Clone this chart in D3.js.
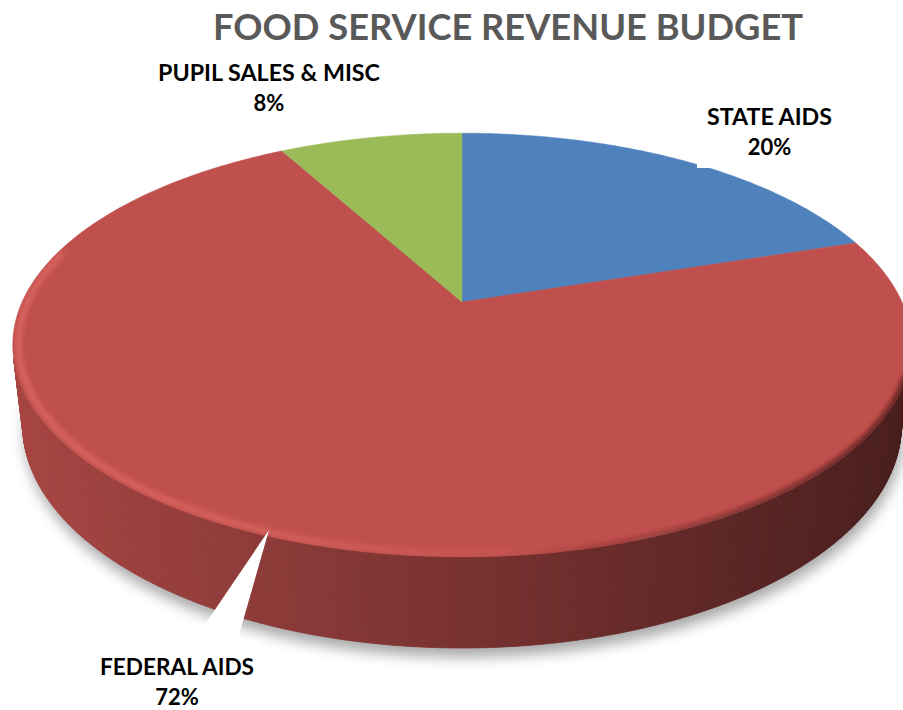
<!DOCTYPE html>
<html>
<head>
<meta charset="utf-8">
<script src="https://cdn.jsdelivr.net/npm/d3@7"></script>
<style>
  html, body { margin: 0; padding: 0; background: #fff; }
  svg { display: block; }
</style>
</head>
<body>
<svg id="chart" width="903" height="710"></svg>
<script>
// Revenue sources and their shares of the food service budget
const categories = ["STATE AIDS", "FEDERAL AIDS", "PUPIL SALES & MISC"];
const shares = [20, 72, 8];
const sliceColors = ["#4F81BD", "#C0504D", "#9BBB59"];
const chartTitle = "FOOD SERVICE REVENUE BUDGET";

// Label placement: centre x, baseline of the first line, target width of the name, backing box
const labelLayout = [
  { x: 769.5, y: 125, w: 125, box: [697, 98, 148, 70] },
  { x: 177,   y: 675, w: 154, box: [95, 641, 166, 69] },
  { x: 269,   y: 81,  w: 222, box: [150, 55, 238, 66] }
];

const W = 903, H = 710;
const svg = d3.select("#chart");
const defs = svg.append("defs");

// --- perspective camera for the tilted disc -------------------------------
const cam = {
  cx: 462, cy: 302,        // screen position of the disc centre
  focal: 1921,             // focal length in px (camera distance = 1)
  radius: 0.229,           // disc radius relative to camera distance
  depth: 0.047,            // disc thickness
  tilt: 27.5 * Math.PI / 180
};
function project(t, z, rf = 1) {
  const X = cam.radius * rf * Math.cos(t);
  const Y = cam.radius * rf * Math.sin(t);
  const d = 1 + Y * Math.cos(cam.tilt) - z * Math.sin(cam.tilt);
  const v = Y * Math.sin(cam.tilt) + z * Math.cos(cam.tilt);
  return [cam.cx + cam.focal * X / d, cam.cy - cam.focal * v / d];
}
// pie angle (0 at 12 o'clock, clockwise) -> world angle
const worldAngle = a => Math.PI / 2 - a;

const pie = d3.pie().sort(null).value(d => d)(shares);
const total = d3.sum(shares);
const pctText = v => Math.round(v / total * 100) + "%";

const line = d3.line();
function arcPoints(a0, a1, z, rf = 1, step = 0.01) {
  const n = Math.max(2, Math.ceil(Math.abs(a1 - a0) / step));
  return d3.range(n + 1).map(i => project(worldAngle(a0 + (a1 - a0) * i / n), z, rf));
}

// --- soft drop shadow under the disc -----------------------------------
const shadowBlur = defs.append("filter").attr("id", "shadowBlur")
  .attr("x", "-20%").attr("y", "-20%").attr("width", "140%").attr("height", "140%");
shadowBlur.append("feGaussianBlur").attr("stdDeviation", 7);

svg.append("path")
  .attr("d", line(arcPoints(0, 2 * Math.PI, -cam.depth)) + "Z")
  .attr("transform", "translate(2,9)")
  .attr("fill", "#000")
  .attr("opacity", 0.34)
  .attr("filter", "url(#shadowBlur)");

// --- side wall, shaded left-to-right -----------------------------------
const shade = d3.scaleLinear().domain([13, 911]).range([0.87, 0.38]).clamp(true);
const sideG = svg.append("g");
pie.forEach((s, i) => {
  const base = d3.rgb(sliceColors[i]);
  const n = Math.ceil((s.endAngle - s.startAngle) / 0.006);
  for (let k = 0; k < n; k++) {
    const a0 = s.startAngle + (s.endAngle - s.startAngle) * k / n;
    const a1 = s.startAngle + (s.endAngle - s.startAngle) * (k + 1) / n;
    const p0 = project(worldAngle(a0), 0), p1 = project(worldAngle(a1), 0);
    const q1 = project(worldAngle(a1), -cam.depth), q0 = project(worldAngle(a0), -cam.depth);
    // keep only strips that face the camera
    const cross = (p1[0] - p0[0]) * (q1[1] - p0[1]) - (p1[1] - p0[1]) * (q1[0] - p0[0]);
    if (cross >= 0) continue;
    const f = shade((p0[0] + p1[0]) / 2);
    const c = d3.rgb(base.r * f, base.g * f, base.b * f).formatHex();
    sideG.append("path")
      .attr("d", line([p0, p1, q1, q0]) + "Z")
      .attr("fill", c).attr("stroke", c).attr("stroke-width", 0.8);
  }
});

// --- top face slices ---------------------------------------------------
const topG = svg.append("g");
pie.forEach((s, i) => {
  const pts = [project(0, 0, 0)].concat(arcPoints(s.startAngle, s.endAngle, 0));
  topG.append("path")
    .attr("d", line(pts) + "Z")
    .attr("fill", sliceColors[i])
    .attr("stroke", sliceColors[i]).attr("stroke-width", 0.5);
});

// --- bevel on the rim: highlight on the lit side, shade on the far side ---
defs.append("clipPath").attr("id", "topClip")
  .append("path").attr("d", line(arcPoints(0, 2 * Math.PI, 0)) + "Z");
const rimBlur = defs.append("filter").attr("id", "rimBlur")
  .attr("x", "-10%").attr("y", "-10%").attr("width", "120%").attr("height", "120%");
rimBlur.append("feGaussianBlur").attr("stdDeviation", 2.4);
const darkBlur = defs.append("filter").attr("id", "darkBlur")
  .attr("x", "-10%").attr("y", "-10%").attr("width", "120%").attr("height", "120%");
darkBlur.append("feGaussianBlur").attr("stdDeviation", 2.4);

const hiGrad = defs.append("linearGradient").attr("id", "hiGrad")
  .attr("gradientUnits", "userSpaceOnUse").attr("x1", 13).attr("x2", 911).attr("y1", 0).attr("y2", 0);
[[0, 0.8], [0.25, 0.7], [0.45, 0.35], [0.62, 0]].forEach(([o, a]) =>
  hiGrad.append("stop").attr("offset", o).attr("stop-color", "#e66e69").attr("stop-opacity", a));
const loGrad = defs.append("linearGradient").attr("id", "loGrad")
  .attr("gradientUnits", "userSpaceOnUse").attr("x1", 13).attr("x2", 911).attr("y1", 0).attr("y2", 0);
[[0.55, 0], [0.8, 0.5], [1, 0.8]].forEach(([o, a]) =>
  loGrad.append("stop").attr("offset", o).attr("stop-color", "#3c1414").attr("stop-opacity", a));

const rimG = svg.append("g").attr("clip-path", "url(#topClip)");
// rim from back-left, round the front, to back-right (world degrees)
const rimArc = (rf) => d3.range(301).map(i =>
  project((165 + (340 - 165) * i / 300) * Math.PI / 180, 0, rf));
rimG.append("path")
  .attr("d", line(rimArc(0.987)))
  .attr("fill", "none").attr("stroke", "url(#hiGrad)").attr("stroke-width", 5)
  .attr("filter", "url(#rimBlur)");
rimG.append("path")
  .attr("d", line(rimArc(1.0)))
  .attr("fill", "none").attr("stroke", "url(#loGrad)").attr("stroke-width", 7)
  .attr("filter", "url(#darkBlur)");

// --- labels --------------------------------------------------------------
const font = "Lato, 'Open Sans', 'DejaVu Sans', sans-serif";
const labelG = svg.append("g");

// callout pointer from the Federal Aids label to its slice
labelG.append("path")
  .attr("d", line([[269, 530], [193, 642], [237, 642]]) + "Z")
  .attr("fill", "#fff");

pie.forEach((s, i) => {
  const L = labelLayout[i];
  labelG.append("rect")
    .attr("x", L.box[0]).attr("y", L.box[1]).attr("width", L.box[2]).attr("height", L.box[3])
    .attr("fill", "#fff");
  labelG.append("text")
    .attr("x", L.x).attr("y", L.y)
    .attr("text-anchor", "middle")
    .attr("font-family", font).attr("font-weight", 700).attr("font-size", 23)
    .attr("textLength", L.w).attr("lengthAdjust", "spacingAndGlyphs")
    .attr("fill", "#000")
    .text(categories[i]);
  labelG.append("text")
    .attr("x", L.x).attr("y", L.y + 30)
    .attr("text-anchor", "middle")
    .attr("font-family", font).attr("font-weight", 700).attr("font-size", 22)
    .attr("fill", "#000")
    .text(pctText(s.value));
});

// --- title ---------------------------------------------------------------
svg.append("text")
  .attr("x", 508).attr("y", 39.5)
  .attr("text-anchor", "middle")
  .attr("font-family", font).attr("font-weight", 700).attr("font-size", 37)
  .attr("textLength", 590).attr("lengthAdjust", "spacingAndGlyphs")
  .attr("fill", "#595959")
  .text(chartTitle);
</script>
</body>
</html>
